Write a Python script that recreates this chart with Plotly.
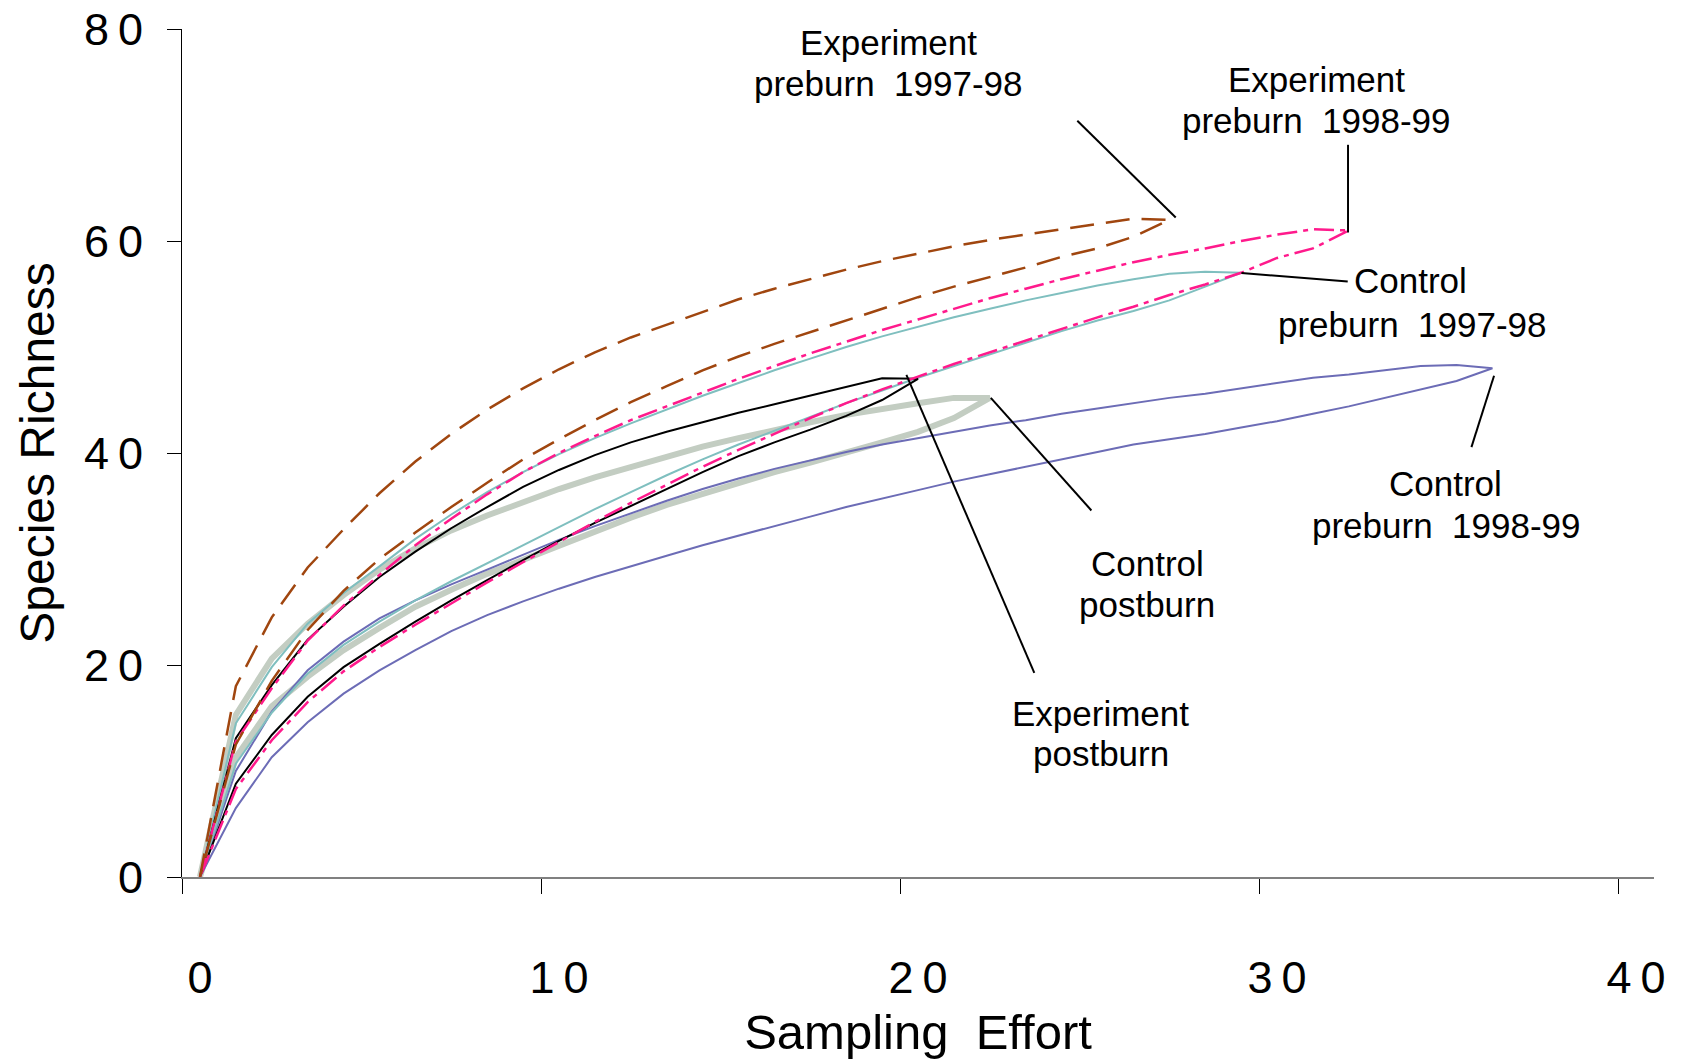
import plotly.graph_objects as go

# Species accumulation curves: upper and lower bound at each sampling step (0..N).
# Each pair closes into a loop at the final sampling effort.
exp_pre_9798_upper = [0, 18.0, 24.5, 29.2, 32.8, 36.2, 39.2, 41.8, 44.1, 46.1, 47.9, 49.5, 50.9, 52.1,
                      53.3, 54.5, 55.5, 56.4, 57.3, 58.1, 58.8, 59.5, 60.1, 60.6, 61.1, 61.6, 62.1, 62.0]
exp_pre_9798_lower = [0, 12.5, 18.5, 23.3, 27.0, 30.0, 32.5, 34.9, 37.2, 39.4, 41.3, 43.1, 44.8, 46.3,
                      47.8, 49.1, 50.3, 51.4, 52.5, 53.6, 54.7, 55.7, 56.6, 57.5, 58.5, 59.3, 60.4, 62.0]

exp_pre_9899_upper = [0, 12.8, 17.8, 22.3, 25.6, 28.5, 31.3, 33.8, 36.1, 38.2, 40.0, 41.6, 43.1, 44.4,
                      45.7, 47.0, 48.2, 49.4, 50.5, 51.6, 52.6, 53.6, 54.6, 55.5, 56.4, 57.2, 58.0, 58.7,
                      59.3, 60.0, 60.6, 61.1, 61.0]
exp_pre_9899_lower = [0, 8.3, 12.9, 16.5, 19.4, 21.7, 23.8, 25.8, 27.8, 29.7, 31.6, 33.5, 35.3, 37.0,
                      38.7, 40.3, 41.8, 43.3, 44.7, 46.0, 47.2, 48.4, 49.5, 50.6, 51.7, 52.8, 53.8, 54.9,
                      55.9, 57.0, 58.4, 59.3, 61.0]

ctl_pre_9798_upper = [0, 14.5, 19.8, 23.9, 26.8, 29.3, 31.9, 34.2, 36.3, 38.2, 39.9, 41.4, 42.8, 44.1,
                      45.4, 46.6, 47.8, 48.9, 50.0, 51.0, 51.9, 52.8, 53.6, 54.4, 55.1, 55.8, 56.4, 56.9,
                      57.1, 57.0]
ctl_pre_9798_lower = [0, 10.7, 15.5, 19.2, 21.9, 24.1, 26.1, 27.9, 29.6, 31.3, 33.0, 34.7, 36.3, 37.9,
                      39.4, 40.8, 42.1, 43.4, 44.7, 45.9, 47.1, 48.2, 49.3, 50.4, 51.5, 52.5, 53.4, 54.4,
                      55.7, 57.0]

ctl_pre_9899_upper = [0, 10.0, 15.6, 19.5, 22.2, 24.4, 26.1, 27.6, 29.0, 30.4, 31.8, 33.1, 34.3, 35.5,
                      36.6, 37.6, 38.5, 39.3, 40.1, 40.8, 41.4, 42.0, 42.6, 43.1, 43.7, 44.2, 44.7, 45.2,
                      45.6, 46.1, 46.6, 47.1, 47.4, 47.8, 48.2, 48.3, 48.0]
ctl_pre_9899_lower = [0, 6.5, 11.3, 14.6, 17.3, 19.5, 21.4, 23.2, 24.7, 26.0, 27.2, 28.3, 29.3, 30.3,
                      31.3, 32.2, 33.1, 34.0, 34.9, 35.7, 36.5, 37.3, 38.0, 38.7, 39.4, 40.1, 40.8, 41.3,
                      41.8, 42.4, 43.0, 43.7, 44.4, 45.2, 46.0, 46.8, 48.0]

ctl_post_upper = [0, 15.3, 20.6, 23.9, 26.6, 29.0, 31.0, 32.7, 34.1, 35.4, 36.6, 37.7, 38.7, 39.7,
                  40.6, 41.4, 42.2, 42.9, 43.6, 44.2, 44.7, 45.2, 45.2]
ctl_post_lower = [0, 11.3, 16.1, 18.9, 21.4, 23.5, 25.5, 27.1, 28.6, 30.0, 31.3, 32.6, 33.9, 35.1,
                  36.2, 37.2, 38.2, 39.1, 40.0, 41.0, 42.0, 43.3, 45.2]

exp_post_upper = [0, 13.1, 18.1, 22.4, 25.5, 28.3, 30.7, 32.9, 34.9, 36.8, 38.4, 39.8, 41.0, 42.0,
                  42.9, 43.8, 44.6, 45.4, 46.2, 47.05, 47.0]
exp_post_lower = [0, 8.8, 13.4, 17.0, 19.8, 22.0, 24.1, 26.1, 28.0, 29.9, 31.7, 33.4, 35.0, 36.6,
                  38.2, 39.7, 41.0, 42.2, 43.5, 45.0, 47.0]

x_tick_vals = [0, 10, 20, 30, 40]
x_tick_marks = [-0.5, 9.5, 19.5, 29.5, 39.5]
y_tick_vals = [0, 20, 40, 60, 80]

FONT = "Liberation Sans, Arial, Helvetica, sans-serif"
THIN = "\u2009"
GAP = "\u00a0 "


def spaced(s):
    return THIN.join(s)


# Drawing order: bottom to top
series = [
    dict(upper=ctl_post_upper, lower=ctl_post_lower, color="#C3CDC2", width=6, dash="solid",
         label=("Control", "postburn"), text_xy=[(26.38, 29.54), (26.38, 25.72)],
         leader=((1, 0), (101.6, -112.6))),
    dict(upper=ctl_pre_9899_upper, lower=ctl_pre_9899_lower, color="#6C6CB6", width=2, dash="solid",
         label=("Control", "preburn" + GAP + "1998-99"), text_xy=[(34.70, 37.16), (34.71, 33.13)],
         leader=((1.6, -7.6), (-21, -78.9))),
    dict(upper=ctl_pre_9798_upper, lower=ctl_pre_9798_lower, color="#7FBFBF", width=2, dash="solid",
         label=("Control", "preburn" + GAP + "1997-98"), text_xy=[(33.72, 56.29), (33.78, 52.12)],
         leader=((0.3, -0.3), (106.6, -8.7))),
    dict(upper=exp_post_upper, lower=exp_post_lower, color="#000000", width=2, dash="solid",
         label=("Experiment", "postburn"), text_xy=[(25.09, 15.38), (25.09, 11.61)],
         leader=((-11.6, 4), (116.3, -294))),
    dict(upper=exp_pre_9899_upper, lower=exp_pre_9899_lower, color="#FF1A8C", width=2.5,
         dash="20px,6px,5px,6px",
         label=("Experiment", "preburn" + GAP + "1998-99"), text_xy=[(31.09, 75.28), (31.09, 71.35)],
         leader=((-0.8, -2.1), (-0.8, 85.6))),
    dict(upper=exp_pre_9798_upper, lower=exp_pre_9798_lower, color="#A0460F", width=2.5,
         dash="24px,12px",
         label=("Experiment", "preburn" + GAP + "1997-98"), text_xy=[(19.18, 78.71), (19.18, 74.84)],
         leader=((6.4, 2.3), (-92, 99))),
]

fig = go.Figure()
annotations = []
shapes = []

for s in series:
    n = len(s["upper"]) - 1
    xs = list(range(n + 1)) + list(range(n - 1, -1, -1))
    ys = s["upper"] + s["lower"][-2::-1]
    fig.add_trace(go.Scatter(
        x=xs, y=ys, mode="lines",
        line=dict(color=s["color"], width=s["width"], dash=s["dash"]),
        showlegend=False, hoverinfo="skip",
    ))

    # leader line from the loop's closing point out towards its label
    end_x, end_y = n, s["upper"][-1]
    (ax0, ay0), (ax1, ay1) = s["leader"]
    shapes.append(dict(
        type="line", xref="x", yref="y",
        xsizemode="pixel", ysizemode="pixel",
        xanchor=end_x, yanchor=end_y,
        x0=ax0, y0=ay0, x1=ax1, y1=ay1,
        line=dict(color="black", width=2),
    ))

    for text, (tx, ty) in zip(s["label"], s["text_xy"]):
        annotations.append(dict(
            x=tx, y=ty, xref="x", yref="y", text=text, showarrow=False,
            xanchor="center", yanchor="middle",
            font=dict(family=FONT, size=35, color="black"),
        ))

fig.update_layout(
    width=1681, height=1061,
    margin=dict(l=182, r=27, t=29, b=184, autoexpand=False),
    paper_bgcolor="white", plot_bgcolor="white",
    font=dict(family=FONT, color="black"),
    shapes=shapes, annotations=annotations,
    xaxis=dict(
        range=[-0.5, 40.5], autorange=False,
        tickmode="array", tickvals=x_tick_vals, ticktext=[spaced(str(v)) for v in x_tick_vals],
        ticks="", ticklabelstandoff=60,
        tickfont=dict(family=FONT, size=45, color="black"),
        minor=dict(tickmode="array", tickvals=x_tick_marks, ticks="outside", ticklen=15,
                   tickwidth=1, tickcolor="black", showgrid=False),
        showline=True, linecolor="#808080", linewidth=2,
        showgrid=False, zeroline=False, automargin=False,
        title=dict(text="Sampling  Effort", font=dict(family=FONT, size=49, color="black"), standoff=13),
    ),
    yaxis=dict(
        range=[0, 80], autorange=False,
        tickmode="array", tickvals=y_tick_vals, ticktext=[spaced(str(v)) for v in y_tick_vals],
        ticks="outside", ticklen=14, tickwidth=1, tickcolor="black", ticklabelstandoff=15,
        tickfont=dict(family=FONT, size=45, color="black"),
        showline=True, linecolor="black", linewidth=1,
        showgrid=False, zeroline=False, automargin=False,
        title=dict(text="Species Richness", font=dict(family=FONT, size=48, color="black"), standoff=14),
    ),
)

fig.write_html("out.html")
